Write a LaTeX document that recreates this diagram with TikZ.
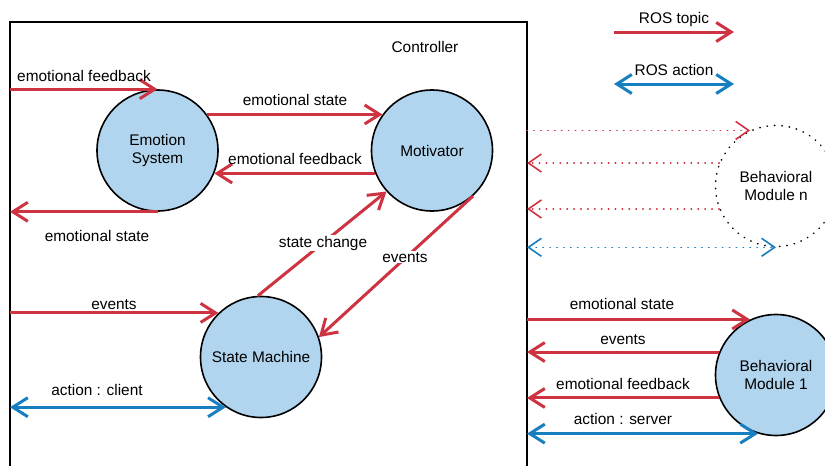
\documentclass[tikz,border=0pt]{standalone}
\usepackage{fontspec}
\setmainfont{Liberation Sans}
\usetikzlibrary{arrows.meta}

\definecolor{rosred}{RGB}{206,51,65}
\definecolor{rosblue}{RGB}{23,126,192}
\definecolor{modfill}{RGB}{177,213,238}

\tikzset{
    every node/.style = {font=\fontsize{15.4}{18}\selectfont},
    module/.style = {circle, draw, line width=1.6pt, fill=modfill, minimum size=121pt, inner sep=0pt, align=center},
    modn/.style = {fill=none, line cap=round, dash pattern=on 0.4pt off 7pt},
    lbl/.style = {anchor=base, inner sep=1pt},
    topic/.style = {rosred, line width=3pt, -{Straight Barb[length=15pt, width=19pt]}},
    action/.style = {rosblue, line width=3pt, {Straight Barb[length=15pt, width=19pt]}-{Straight Barb[length=15pt, width=19pt]}},
    topicdot/.style = {rosred, line width=1.6pt, line cap=round, dash pattern=on 0.4pt off 6.5pt, -{Straight Barb[length=13pt, width=18pt, line cap=butt]}},
    actiondot/.style = {rosblue, line width=1.6pt, line cap=round, dash pattern=on 0.4pt off 6.5pt, {Straight Barb[length=13pt, width=18pt, line cap=butt]}-{Straight Barb[length=13pt, width=18pt, line cap=butt]}}
}

\begin{document}
\begin{tikzpicture} [x = 1pt, y = -1pt]

    \useasboundingbox (0,0) rectangle (825,466);
    \clip (0,0) rectangle (825,466);

    % controller box, open at the bottom
    \draw [line width=1.6pt] (10,480) -- (10,22) -- (527,22) -- (527,480);
    \coordinate (boxl) at (10,0);
    \coordinate (boxr) at (527,0);
    \node [lbl] (ctrl) at (425,52) {Controller};

    \node [module] (emo) at (157.5,150.5) {Emotion\\System};
    \node [module] (mot) at (432,150.5) {Motivator};
    \node [module] (sm) at (261,357) {State Machine};
    \node [module, modn] (modn) at (776,186) {Behavioral\\Module n};
    \node [module] (mod1) at (776,375) {Behavioral\\Module 1};

    % legend
    \coordinate (tpa) at (614,32);
    \coordinate (tpb) at (734,32);
    \coordinate (aca) at (614,84);
    \coordinate (acb) at (734,84);
    \draw [topic] (tpa) -- (tpb);
    \draw [action] (aca) -- (acb);
    \node [lbl] (ltopic) at (674,23) {ROS topic};
    \node [lbl] (laction) at (674,75) {ROS action};

    % inside the controller
    \draw [topic] (emo.north -| boxl) -- (emo.north);
    \draw [topic] (emo.36) -- (mot.144);
    \draw [topic] (mot.202) -- (emo.338);
    \draw [topic] (emo.south) -- (emo.south -| boxl);
    \draw [topic] (sm.93) -- (mot.222);
    \draw [topic] (mot.312) -- (sm.19);
    \draw [topic] (sm.134 -| boxl) -- (sm.134);
    \draw [action] (sm.235 -| boxl) -- (sm.235);

    \node [lbl] (lfbin) at (84,81) {emotional feedback};
    \node [lbl] (lesem) at (295,105) {emotional state};
    \node [lbl] (lfbme) at (295,164) {emotional feedback};
    \node [lbl] (lesout) at (97,241) {emotional state};
    \node [lbl, fill=white] (lsc) at (323,247) {state change};
    \node [lbl, fill=white] (levms) at (405,262) {events};
    \node [lbl] (levin) at (114,309) {events};
    \node [lbl] (lcli) at (97,395) {action : client};

    % behavioral modules
    \draw [topicdot] (modn.115 -| boxr) -- (modn.115);
    \draw [topicdot] (modn.158) -- (modn.158 -| boxr);
    \draw [topicdot] (modn.202) -- (modn.202 -| boxr);
    \draw [actiondot] (modn.270 -| boxr) -- (modn.270);

    \draw [topic] (mod1.115 -| boxr) -- (mod1.115);
    \draw [topic] (mod1.158) -- (mod1.158 -| boxr);
    \draw [topic] (mod1.202) -- (mod1.202 -| boxr);
    \draw [action] (mod1.253 -| boxr) -- (mod1.253);

    \node [lbl] (les1) at (622,309) {emotional state};
    \node [lbl] (lev1) at (623,344) {events};
    \node [lbl] (lfb1) at (623,389) {emotional feedback};
    \node [lbl] (lsrv) at (623,424) {action : server};

\end{tikzpicture}
\end{document}
